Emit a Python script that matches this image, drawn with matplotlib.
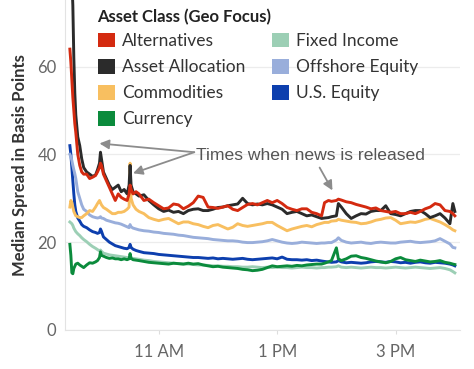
"""Median bid-ask spread by asset class over the trading day."""
import matplotlib
matplotlib.use("Agg")
import matplotlib.pyplot as plt
import matplotlib.dates as mdates
from matplotlib.patches import Patch
import pandas as pd

# minutes after the 9:30 open
minutes = ([0, 1, 2, 3, 4, 5, 6, 8, 10, 12, 14, 17, 20, 23, 26, 28, 30, 31, 32, 34,
            37, 40, 43, 46, 49, 52, 55, 58, 60, 61, 62, 64, 67, 70, 75, 80, 85, 90]
           + list(range(95, 256, 5))
           + [258, 262, 265, 270, 272, 275]
           + list(range(280, 386, 5))
           + [388, 390])

alternatives = [64, 61, 57, 53, 50, 47, 45, 40, 37.5, 36, 35.5, 35.5, 34.5, 34.8, 35.2, 36, 37, 38, 37.5, 35.5,
                34, 32.5, 31, 29.5, 31, 30.2, 29.8, 29.5, 31, 33, 32, 31, 31.5, 31, 29.5, 29.8, 29, 28.3,
                27.6, 27.8, 28.7, 28.5, 27.6, 28.2, 29, 30.5, 30.2, 28, 27.9, 27.7, 28, 28.3, 27.5, 27.2, 27.9,
                28.6, 28.8, 28.5, 29, 29.5, 29, 29.5, 28.8, 27.9, 27.5, 27.2, 27.6, 27.6, 26.8, 26.5, 26,
                29, 29.5, 29.3, 29.5, 29.8, 29.6,
                29.2, 29, 28.6, 28.3, 28, 27.6, 27.8, 27.2, 27, 26.8, 27, 26.5, 26.5, 26.8, 26.5, 27, 27.6,
                28, 28.8, 28.5, 27.2, 27,
                26.5, 26]

asset_allocation = [95, 88, 80, 74, 62, 54, 49, 44, 42, 39, 37, 36, 35.5, 35, 35.3, 36.5, 38, 40.5, 39, 36,
                    34.5, 33, 32, 32.5, 33, 31.5, 32, 31, 33, 37.5, 33, 31.5, 31, 30.5, 30.8, 29.5, 28.5, 27.6,
                    27, 27.3, 26.8, 27, 26.5, 27.2, 27.5, 27.6, 27.2, 27.2, 27.5, 27.9, 28, 28.3, 28.5, 28.7, 30,
                    28.8, 28.5, 28.7, 28.5, 28.8, 28.5, 28, 27.5, 26.5, 26.8, 27, 26.5, 26, 26.2, 25.8, 25.4,
                    25.5, 25.6, 25.8, 26, 28.8, 28,
                    26.5, 25.4, 26, 26.5, 26.4, 27, 27.2, 27.2, 28.3, 26.5, 26.3, 26, 26.5, 27, 27.2, 27.2,
                    26.5, 25.6, 26, 26.5, 25.5, 24.2,
                    28.8, 27]

commodities = [28, 29.5, 29, 28, 27, 26.5, 26, 25.8, 25.6, 25.6, 26, 26.5, 27.2, 27, 28, 28.8, 29.5, 29, 28.5,
               27.9, 27.5, 27, 26.5, 26.5, 26.8, 26.8, 27, 27.5, 28, 38, 30, 28.5, 27.5, 27, 26.5, 25.6, 25.2,
               24.9,
               25.2, 25.4, 24.8, 24.2, 24.6, 24.6, 24.2, 24, 23.6, 23.3, 23.8, 24, 23.5, 23, 23.4, 24.2, 23.8,
               23.6, 23.8, 24, 24.2, 24.5, 24.5, 23.8, 23.2, 22.6, 23, 23.3, 23.6, 23.8, 23.5, 24, 24.3,
               24.5, 24.5, 24.8, 24.9, 25.2, 25,
               24.8, 24.6, 24.5, 24.2, 24.3, 24.6, 25, 25.2, 25.5, 25.6, 25, 24.2, 24.4, 24.6, 24.5, 24.8,
               25.2, 25.4, 25, 24.6, 24, 23.3,
               22.8, 22.6]

currency = [19.5, 17, 13, 12.8, 14, 14.5, 15, 15.2, 14.8, 14.5, 14.2, 14.8, 15.3, 15.2, 15.5, 15.8, 16.5, 17.8,
            17, 16.8, 16.5, 16.3, 16.4, 16.2, 16.2, 16, 16.2, 16, 16.2, 17.4, 16.3, 16, 15.9, 15.8, 15.6, 15.4,
            15.3, 15.2,
            15.1, 15, 15.2, 15.1, 15, 15.2, 15, 15.1, 14.8, 14.6, 14.4, 14.5, 14.3, 14.2, 14.1, 14, 13.8, 13.7,
            13.5, 13.6, 13.8, 14.2, 14.6, 14.4, 14.5, 14.6, 14.5, 14.7, 14.6, 14.8, 14.9, 15, 15,
            15.2, 15.5, 15.8, 18.7, 16.2, 15.8,
            16.2, 16.8, 16.9, 16.5, 16.3, 16, 15.7, 15.5, 15.3, 15.6, 16.2, 16.5, 16, 15.8, 15.6, 15.9,
            15.7, 15.5, 15.6, 15.8, 15.4, 15.2,
            15, 14.9]

fixed_income = [24.6, 24.4, 24.2, 23.8, 23.2, 22.8, 22.4, 21.9, 21.5, 21, 20.6, 20.1, 19.5, 19, 18.6, 18.3, 18,
                18.2, 17.9, 17.5, 17.3, 17.1, 17, 16.9, 16.8, 16.7, 16.6, 16.5, 16.4, 16.8, 16.4, 16.3, 16.2,
                16.1, 15.9, 15.8, 15.6, 15.5,
                15.4, 15.3, 15.2, 15.1, 15, 15, 14.9, 14.8, 14.8, 14.7, 14.6, 14.6, 14.5, 14.5, 14.4, 14.4,
                14.3, 14.3, 14.4, 14.3, 14.2, 14.3, 14.2, 14.3, 14.2, 14.2, 14.1, 14.2, 14.3, 14.2, 14.2,
                14.1, 14.2,
                14.2, 14.3, 14.3, 14.4, 14.6, 14.3,
                14.2, 14.3, 14.2, 14.1, 14.2, 14.3, 14.2, 14.2, 14.1, 14.2, 14.3, 14.2, 14.1, 14.2, 14.3,
                14.2, 14.1, 14, 14.1, 14.2, 14, 13.7,
                13.3, 13]

offshore_equity = [40, 39.5, 38.6, 37.5, 36.5, 35.6, 34.5, 31.5, 30, 28.5, 27.5, 27, 26.2, 25.8, 25.6, 25.5,
                   25.6, 25.8, 25.5, 25.4, 25, 24.8, 24.6, 24.4, 24.3, 24.1, 23.8, 23.5, 23.3, 24, 23.5, 23.2,
                   23, 22.8, 22.6, 22.5, 22.3, 22.2,
                   22, 21.9, 21.8, 21.6, 21.5, 21.3, 21.1, 21, 20.9, 20.8, 20.6, 20.5, 20.4, 20.3, 20.3, 20.2,
                   20, 19.9, 19.9, 20, 20.1, 20.3, 20.6, 20.3, 20, 19.8, 19.7, 19.8, 20, 19.9, 19.8, 19.7,
                   19.8,
                   19.8, 19.9, 19.9, 20.5, 21, 20.4,
                   20, 19.8, 19.9, 20, 19.8, 19.7, 19.9, 20, 19.9, 19.8, 19.8, 20, 20.1, 20.2, 20, 19.9, 20,
                   20.1, 20.3, 20.8, 20.2, 19.6,
                   18.8, 18.7]

us_equity = [42, 40, 37, 34, 31, 28.5, 27, 25.5, 24.8, 24, 23.6, 23.3, 22.8, 22.4, 22.2, 22, 22.2, 23, 22.5,
             21.2, 20.6, 20, 19.6, 19.2, 19, 18.8, 18.6, 18.5, 18.8, 19.5, 18.8, 18.4, 18.1, 17.9, 17.6, 17.5,
             17.4, 17.2,
             17.1, 17, 16.9, 16.8, 16.7, 16.6, 16.5, 16.5, 16.4, 16.3, 16.4, 16.2, 16.3, 16.2, 16.1, 16.2,
             16.3, 16.1, 16, 16.1, 16.2, 16.3, 16.4, 16.2, 16.6, 16.1, 16, 16, 15.9, 16, 15.8, 15.9, 15.7,
             15.6, 15.5, 15.4, 15.5, 15.8, 15.5,
             15.3, 15.4, 15.3, 15.2, 15.3, 15.5, 15.6, 15.5, 15.4, 15.6, 15.5, 15.3, 15.4, 15.2, 15.4, 15.5,
             15.3, 15.2, 15.4, 15.3, 15.2, 15,
             14.8, 14.6]

asset_classes = ["Alternatives", "Asset Allocation", "Commodities", "Currency",
                 "Fixed Income", "Offshore Equity", "U.S. Equity"]
colors = ["#d42a10", "#2b2b2b", "#f8bf60", "#0b8b3c", "#9ccfb5", "#99aedb", "#0d3fae"]

df = pd.DataFrame({
    "Alternatives": alternatives,
    "Asset Allocation": asset_allocation,
    "Commodities": commodities,
    "Currency": currency,
    "Fixed Income": fixed_income,
    "Offshore Equity": offshore_equity,
    "U.S. Equity": us_equity,
})
df.index = pd.Timestamp("2020-01-02 09:30") + pd.to_timedelta(minutes, unit="min")

plt.rcParams["font.family"] = ["Lato", "DejaVu Sans"]

fig = plt.figure(figsize=(4.74, 3.69), dpi=100)
ax = fig.add_axes([0.137, 0.106, 0.833, 0.894])

# draw order: light lines underneath, alternatives on top
draw_order = ["Fixed Income", "U.S. Equity", "Currency", "Offshore Equity",
              "Commodities", "Asset Allocation", "Alternatives"]
color_map = dict(zip(asset_classes, colors))
for name in draw_order:
    ax.plot(df.index, df[name], color=color_map[name], lw=2.1, solid_joinstyle="round")

ax.set_ylim(0, 75.2)
ax.set_xlim(pd.Timestamp("2020-01-02 09:25"), pd.Timestamp("2020-01-02 16:05"))
ax.set_yticks([0, 20, 40, 60])
ax.xaxis.set_major_locator(mdates.HourLocator(byhour=[11, 13, 15]))
ax.xaxis.set_major_formatter(mdates.DateFormatter("%-I %p"))

ax.grid(axis="y", color="#ececec", lw=0.9)
ax.set_axisbelow(True)
for side in ["top", "right"]:
    ax.spines[side].set_visible(False)
for side in ["left", "bottom"]:
    ax.spines[side].set_color("#e3e3e3")
ax.tick_params(axis="y", length=0, pad=6, labelsize=12, labelcolor="#666666")
ax.tick_params(axis="x", length=3, color="#dddddd", pad=7, labelsize=12, labelcolor="#666666")
ax.set_ylabel("Median Spread in Basis Points", fontsize=12, fontweight="bold", color="#333333", labelpad=7)

# news annotations
base = pd.Timestamp("2020-01-02 09:30")
arrow = dict(arrowstyle="-|>", color="#8c8c8c", lw=1.3, mutation_scale=14, shrinkA=0, shrinkB=0)
ax.annotate("", xy=(base + pd.Timedelta(minutes=30), 42.5), xytext=(base + pd.Timedelta(minutes=126), 40.5),
            arrowprops=arrow)
ax.annotate("", xy=(base + pd.Timedelta(minutes=64), 35.7), xytext=(base + pd.Timedelta(minutes=126), 40.5),
            arrowprops=arrow)
ax.annotate("", xy=(base + pd.Timedelta(minutes=266), 31.8), xytext=(base + pd.Timedelta(minutes=253), 37.0),
            arrowprops=arrow)
ax.text(base + pd.Timedelta(minutes=128), 39.8, "Times when news is released", fontsize=12.6,
        family=["Liberation Sans", "DejaVu Sans"], color="#555555", va="center", ha="left")

# legend: title drawn separately so the rows sit where the original has them
ax.text(0.081, 0.9485, "Asset Class (Geo Focus)", transform=ax.transAxes, fontsize=12,
        fontweight="bold", color="#222222", va="center", ha="left")
handles = [Patch(facecolor=c, edgecolor="none") for c in colors]
leg = ax.legend(handles, asset_classes, ncol=2,
                loc="upper left", bbox_to_anchor=(0.075, 0.912), frameon=False, fontsize=12.5,
                handlelength=1.0, handleheight=0.95, handletextpad=0.4,
                columnspacing=1.5, labelspacing=0.56, borderaxespad=0, borderpad=0.2)
for t in leg.get_texts():
    t.set_color("#333333")

fig.savefig("out.png", dpi=100)
